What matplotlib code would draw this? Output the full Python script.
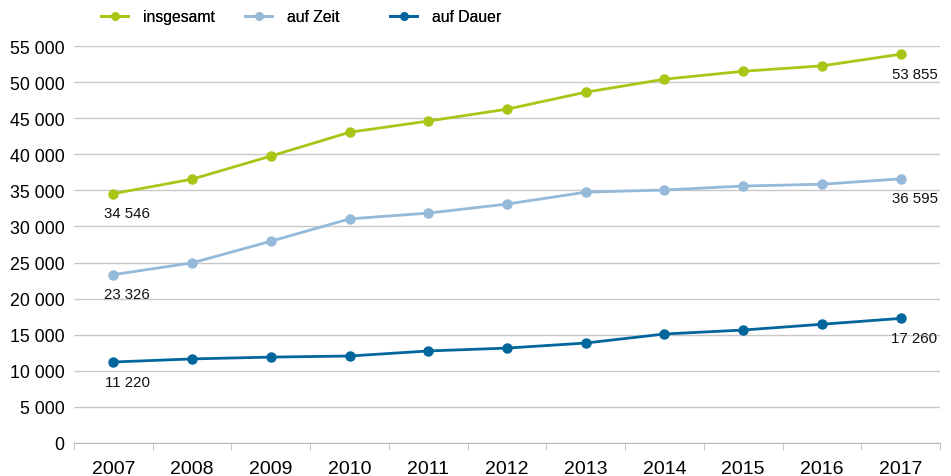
import matplotlib.pyplot as plt

plt.rcParams['font.family'] = ['Liberation Sans', 'DejaVu Sans']

years = ['2007', '2008', '2009', '2010', '2011', '2012', '2013', '2014', '2015', '2016', '2017']
insgesamt = [34546, 36550, 39750, 43050, 44600, 46250, 48600, 50400, 51500, 52250, 53855]
auf_zeit = [23326, 24950, 27950, 31050, 31850, 33100, 34750, 35050, 35600, 35850, 36595]
auf_dauer = [11220, 11650, 11900, 12050, 12750, 13150, 13850, 15100, 15650, 16450, 17260]

series = [
    ('insgesamt', insgesamt, '#a9c516'),
    ('auf Zeit', auf_zeit, '#95b9d9'),
    ('auf Dauer', auf_dauer, '#00669b'),
]

fig = plt.figure(figsize=(9.51, 4.77), dpi=100)
ax = fig.add_axes([74 / 951, 1 - 444 / 477, 866 / 951, 397 / 477])

x = list(range(len(years)))
handles = []
for name, vals, col in series:
    h, = ax.plot(x, vals, color=col, lw=2, marker='o', ms=6.5, label=name, zorder=3)
    handles.append(h)
    for i in (0, len(vals) - 1):
        lab = f'{vals[i]:,}'.replace(',', ' ')
        ax.annotate(lab, (x[i], vals[i]), xytext=(10, -9), textcoords='offset points',
                    ha='center', va='top', fontsize=10.8, color='#111111')

ax.set_xlim(-0.5, len(years) - 0.5)
ax.set_ylim(0, 55000)
ax.set_yticks(range(0, 55001, 5000))
ax.set_yticklabels([f'{v:,}'.replace(',', ' ') for v in range(0, 55001, 5000)], fontsize=12.8)
ax.set_xticks(x)
ax.set_xticklabels(years, fontsize=14)
ax.set_xticks([i - 0.5 for i in range(len(years) + 1)], minor=True)
ax.tick_params(axis='x', which='major', length=0, pad=12)
ax.tick_params(axis='x', which='minor', length=5, color='#bbbbbb')
ax.tick_params(axis='y', length=0, pad=7)
ax.grid(axis='y', color='#c8c8c8', lw=1)
ax.set_axisbelow(True)
for s in ['left', 'right', 'top']:
    ax.spines[s].set_visible(False)
ax.spines['bottom'].set_color('#bbbbbb')

# one legend per entry so the entries sit at fixed positions
for h, left in zip(handles, [101, 245, 390]):
    fig.add_artist(fig.legend(handles=[h], loc='upper left',
                              bbox_to_anchor=(left / 951, 1 - 10 / 477),
                              frameon=False, fontsize=11.3, handlelength=1.75,
                              handletextpad=0.9, borderpad=0, borderaxespad=0,
                              markerscale=0.8))

fig.savefig('out.png', dpi=100)
